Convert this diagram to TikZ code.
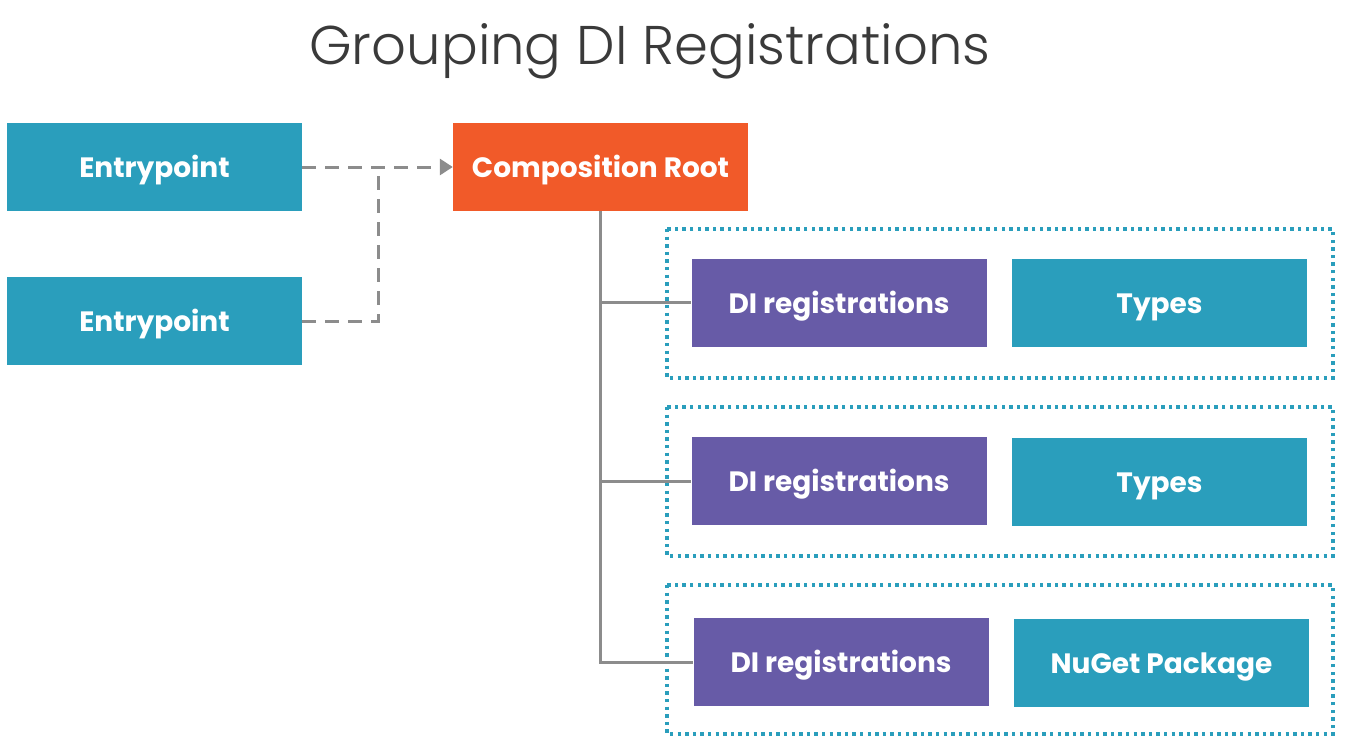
\documentclass[tikz,border=0pt]{standalone}
\usepackage{fontspec}
\setmainfont{Poppins}
\newfontfamily\titlefont{Poppins Light}
\usetikzlibrary{arrows.meta}
\definecolor{teal}{HTML}{2A9EBC}
\definecolor{purp}{HTML}{675BA7}
\definecolor{orng}{HTML}{F15A29}
\definecolor{lgray}{HTML}{8C8C8C}
\definecolor{ttl}{HTML}{3A3A3A}
\begin{document}
\begin{tikzpicture}[x=1pt,y=-1pt,
  boxst/.style={draw=none,inner sep=0pt,minimum width=295pt,minimum height=88pt,text height=21pt,text depth=0pt,text=white,font=\fontsize{28}{30}\selectfont\bfseries},
  tealbox/.style={boxst,fill=teal},
  purpbox/.style={boxst,fill=purp},
  orbox/.style={boxst,fill=orng},
  grp/.style={draw=teal,line width=3.4pt,dash pattern=on 3.4pt off 4.2pt},
  dline/.style={draw=lgray,line width=3pt,dash pattern=on 14pt off 9pt},
  tline/.style={draw=lgray,line width=3pt}]
\useasboundingbox (0,0) rectangle (1348,742);
\node[font=\titlefont\fontsize{54.5}{60}\selectfont,text=ttl,anchor=base] (title) at (650,64) {Grouping DI Registrations};
\node[tealbox] (e1) at (154.5,167) {Entrypoint};
\node[tealbox] (e2) at (154.5,321) {Entrypoint};
\node[orbox] (cr) at (600.5,167) {Composition Root};
\draw[grp] (667,229) rectangle (1333,378);
\draw[grp] (667,407) rectangle (1333,556);
\draw[grp] (667,585) rectangle (1333,734);
\node[purpbox] (d1) at (839,302.5) {DI registrations};
\node[tealbox] (t1) at (1159.5,302.5) {Types};
\node[purpbox] (d2) at (839,481) {DI registrations};
\node[tealbox] (t2) at (1159.5,481.5) {Types};
\node[purpbox] (d3) at (841,662) {DI registrations};
\node[tealbox] (n3) at (1161.5,663) {NuGet Package};
\coordinate (j) at (378,167);
\draw[dline,-{Triangle[length=13pt,width=16pt]}] (e1.east) -- (cr.west);
\draw[dline] (e2.east) -| (j);
\draw[tline] (cr.south) |- (d3.west);
\draw[tline] (cr.south |- d1.west) -- (d1.west);
\draw[tline] (cr.south |- d2.west) -- (d2.west);
\end{tikzpicture}
\end{document}
